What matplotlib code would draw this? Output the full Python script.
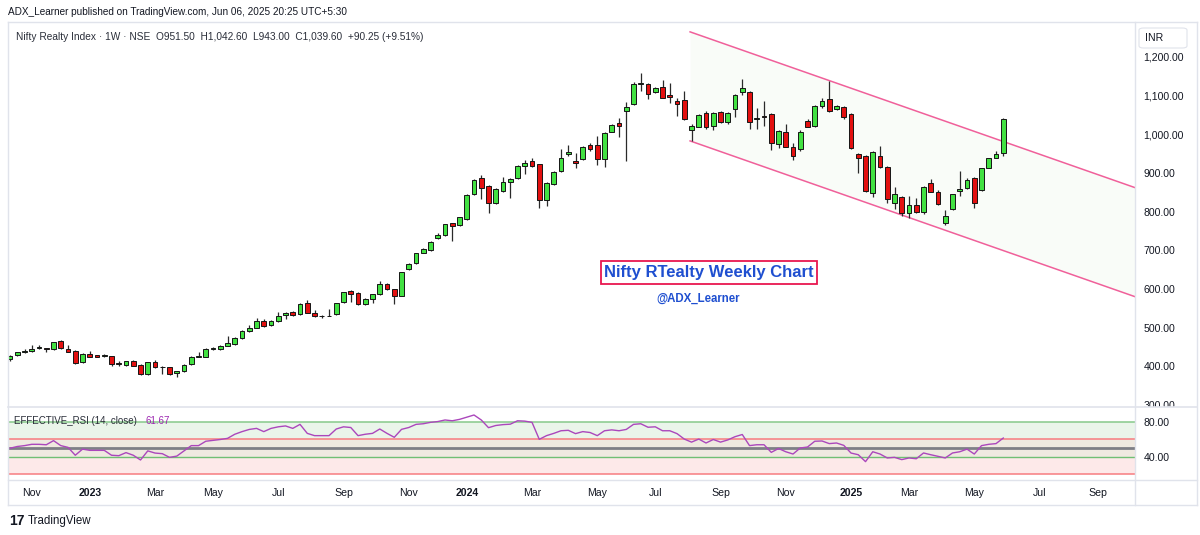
import numpy as np
import pandas as pd
import matplotlib
matplotlib.use("Agg")
import matplotlib.pyplot as plt
from matplotlib.patches import Rectangle, FancyBboxPatch
from matplotlib.lines import Line2D

plt.rcParams['font.family'] = ['Liberation Sans', 'DejaVu Sans']

# weekly candles, Nifty Realty, starting week of 17 Oct 2022
start_week = '2022-10-17'
opens = [419, 429, 436, 441, 448, 446, 445, 466, 445, 441, 410, 432, 429, 428, 427, 408, 404, 415, 404, 380,
         412, 399, 398, 382, 388, 406, 425, 425, 446, 444, 453, 458, 473, 491, 500, 518, 507, 518, 532, 541,
         535, 565, 539, 530, 530, 535, 566, 596, 589, 561, 573, 586, 613, 599, 583, 651, 666, 694, 701, 733,
         740, 770, 766, 780, 846, 886, 867, 823, 854, 876, 886, 919, 932, 922, 830, 872, 905, 949, 932, 935,
         972, 972, 935, 1007, 1030, 1061, 1078, 1130, 1130, 1110, 1123, 1102, 1087, 1089, 1011, 1020, 1054, 1022, 1057, 1031,
         1065, 1110, 1109, 1040, 1046, 1052, 974, 1005, 966, 961, 1035, 1022, 1072, 1091, 1065, 1070, 1053, 948, 944, 849,
         944, 916, 822, 837, 797, 817, 800, 875, 852, 772, 807, 853, 860, 888, 856, 914, 940, 951.5]
highs = [429, 438, 444, 455, 455, 447, 464, 468, 455, 443, 435, 440, 430, 433, 428, 413, 414, 417, 405, 412,
         416, 400, 399, 389, 405, 427, 438, 447, 450, 455, 478, 475, 493, 507, 524, 523, 520, 541, 541, 543,
         563, 572, 546, 534, 548, 565, 593, 598, 591, 576, 588, 621, 615, 601, 645, 667, 694, 705, 724, 745,
         769, 772, 787, 845, 884, 895, 869, 860, 890, 887, 921, 933, 939, 924, 877, 905, 962, 972, 953, 970,
         978, 996, 1006, 1027, 1041, 1084, 1135, 1159, 1132, 1122, 1141, 1134, 1095, 1112, 1027, 1052, 1060, 1058, 1060, 1058,
         1105, 1142, 1111, 1069, 1087, 1055, 1012, 1027, 978, 1010, 1040, 1076, 1093, 1139, 1075, 1073, 1055, 952, 946, 956,
         970, 918, 865, 840, 841, 835, 866, 884, 855, 804, 847, 905, 887, 890, 914, 940, 958, 1042.6]
lows = [415, 427, 434, 437, 444, 438, 443, 445, 436, 405, 408, 423, 424, 424, 400, 402, 402, 400, 378, 378,
        396, 380, 378, 372, 386, 404, 424, 423, 442, 442, 452, 456, 471, 489, 498, 503, 505, 516, 522, 531,
        533, 537, 528, 526, 529, 533, 564, 567, 559, 559, 563, 584, 597, 561, 581, 649, 664, 692, 699, 730,
        738, 724, 764, 778, 844, 832, 796, 821, 852, 835, 884, 897, 915, 809, 815, 870, 903, 943, 912, 933,
        957, 921, 916, 1005, 994, 932, 1076, 1113, 1091, 1108, 1093, 1082, 1047, 1037, 983, 1018, 1015, 1010, 1030, 1028,
        1044, 1103, 1013, 1013, 1022, 960, 965, 966, 934, 958, 1018, 1020, 1069, 1058, 1063, 1039, 962, 899, 852, 838,
        914, 822, 807, 789, 783, 797, 794, 850, 818, 766, 805, 841, 858, 809, 854, 912, 938, 943]
closes = [427, 436, 441, 445, 449, 445, 462, 447, 438, 408, 432, 425, 425, 429, 405, 407, 413, 402, 380, 410,
          398, 398, 380, 387, 404, 425, 426, 445, 447, 453, 460, 473, 491, 500, 518, 505, 518, 530, 539, 533,
          561, 539, 530, 530, 531, 563, 591, 586, 561, 574, 586, 612, 599, 582, 643, 664, 692, 703, 722, 739,
          767, 763, 785, 843, 882, 860, 822, 858, 876, 885, 919, 927, 917, 830, 875, 903, 938, 954, 925, 968,
          961, 935, 1004, 1024, 1022, 1070, 1130, 1132, 1104, 1119, 1095, 1096, 1078, 1039, 1022, 1050, 1018, 1054, 1033, 1054,
          1103, 1119, 1031, 1041, 1045, 977, 1009, 968, 945, 1007, 1020, 1073, 1085, 1060, 1072, 1046, 964, 940, 854, 954,
          916, 832, 845, 797, 817, 800, 863, 852, 820, 789, 845, 859, 882, 822, 912, 938, 949, 1039.6]
rsi = [50, 52, 53, 54.5, 54.5, 54, 58.7, 53, 51, 42, 49, 47.6, 47.6, 47.6, 42, 41.5, 45, 42, 36.6, 47,
       44.5, 43.8, 39.6, 41, 47, 53, 53, 58, 59, 60, 61.3, 66, 69, 71.5, 72.7, 69, 72.7, 74.5, 75.5, 72.7,
       77.3, 67, 64.4, 64.4, 64.4, 72, 74.5, 73.7, 64.4, 66, 67, 72, 67, 62.5, 71.6, 73.7, 77.3, 78, 79.6, 80.5,
       82.3, 81.4, 83, 85.5, 88, 82.3, 73.5, 76, 77, 77.5, 81.4, 81, 79.6, 60.2, 64.4, 67, 70, 70.5, 66.7, 69,
       68, 64.4, 70, 71, 70, 71.5, 77.3, 78, 74, 74.5, 70, 70, 66.7, 60.5, 57, 60.5, 56, 60, 57, 59.5,
       63.2, 65.7, 53, 54, 54, 45.3, 49.7, 46, 43.4, 50.3, 51.4, 58, 58.3, 55.3, 56, 53.3, 44.5, 42.6, 34.7, 46,
       43.4, 38.9, 39.6, 37, 38.9, 38, 44.6, 42.6, 40.8, 38.9, 44.6, 46, 49, 43.4, 53, 54.5, 55.3, 61.67]

# falling channel drawn on the chart (bar index, price)
chan_x = [93.8, 155.2]
chan_top = [1265, 862]
chan_bot = [983, 580]

price_ticks = [300, 400, 500, 600, 700, 800, 900, 1000, 1100, 1200]
rsi_levels = [80, 60, 50, 40, 20]
tick_months = ['2022-11', '2023-01', '2023-03', '2023-05', '2023-07', '2023-09', '2023-11',
               '2024-01', '2024-03', '2024-05', '2024-07', '2024-09', '2024-11',
               '2025-01', '2025-03', '2025-05', '2025-07', '2025-09']
tick_labels = ['Nov', '2023', 'Mar', 'May', 'Jul', 'Sep', 'Nov', '2024', 'Mar', 'May', 'Jul', 'Sep', 'Nov',
               '2025', 'Mar', 'May', 'Jul', 'Sep']

W, H = 1200, 535
def fx(px):
    return px / W
def fy(py):
    return 1 - py / H

fig = plt.figure(figsize=(12, 5.35), dpi=100)
fig.patch.set_facecolor('white')

ax = fig.add_axes([fx(8), fy(407), fx(1135 - 8), (407 - 22) / H])
axr = fig.add_axes([fx(8), fy(480), fx(1135 - 8), (480 - 407) / H], sharex=ax)

o = np.array(opens); h = np.array(highs); l = np.array(lows); c = np.array(closes)
x = np.arange(len(c))
up = c >= o
cols = np.where(up, '#42e142', '#e31010')

# channel
ax.fill_between(chan_x, chan_bot, chan_top, color='#f9fcf8', zorder=0, lw=0)
ax.plot(chan_x, chan_top, color='#f0609a', lw=1.1, zorder=1)
ax.plot(chan_x, chan_bot, color='#f0609a', lw=1.1, zorder=1)

ax.vlines(x, l, h, color='#2a2a2a', lw=0.9, zorder=2)
body = np.maximum(np.abs(c - o), 1.2)
ax.bar(x, body, bottom=np.minimum(o, c), width=0.66, color=cols, edgecolor='#151515',
       linewidth=0.7, zorder=3)

ax.set_xlim(-0.28, 155.17)
ax.set_ylim(294.9, 1290.5)
ax.yaxis.tick_right()
ax.set_yticks(price_ticks)
ax.set_yticklabels([f"{v:,.2f}" for v in price_ticks])
ax.tick_params(axis='y', length=0, pad=6, labelsize=7.6, labelcolor='#131722')
ax.tick_params(axis='x', length=0, labelbottom=False)
for s in ax.spines.values():
    s.set_visible(False)

# RSI pane
axr.axhspan(60, 80, color='#eaf5ea', lw=0, zorder=0)
axr.axhspan(40, 60, color='#efe9e0', lw=0, zorder=0)
axr.axhspan(20, 40, color='#fde9e9', lw=0, zorder=0)
lvl_style = {80: ('#86c98a', 1.1), 60: ('#f77c80', 1.1), 50: ('#7e7f86', 2.0),
             40: ('#6fbf73', 1.0), 20: ('#f77c80', 1.1)}
for lv in rsi_levels:
    axr.axhline(lv, color=lvl_style[lv][0], lw=lvl_style[lv][1], zorder=1)
axr.plot(x, rsi, color='#ab47bc', lw=1.0, zorder=3)
axr.set_ylim(13.71, 97.14)
axr.yaxis.tick_right()
axr.set_yticks([40, 80])
axr.set_yticklabels(['40.00', '80.00'])
axr.tick_params(axis='y', length=0, pad=6, labelsize=7.6, labelcolor='#131722')
for s in axr.spines.values():
    s.set_visible(False)

dates = pd.date_range(start_week, periods=len(c) + 30, freq='W-MON')
tick_pos = [int(np.argmax(dates >= pd.Timestamp(m + '-01'))) for m in tick_months]
axr.set_xticks(tick_pos)
axr.set_xticklabels(tick_labels)
axr.tick_params(axis='x', length=0, pad=6, labelsize=7.6, labelcolor='#131722')
for lab in axr.get_xticklabels():
    if lab.get_text().isdigit():
        lab.set_fontweight('bold')

# frame and separators
line_c = '#e0e3eb'
fig.add_artist(Line2D([fx(8), fx(1197)], [fy(22), fy(22)], color=line_c, lw=1))
fig.add_artist(Line2D([fx(8), fx(1197)], [fy(505), fy(505)], color=line_c, lw=1))
fig.add_artist(Line2D([fx(8), fx(8)], [fy(22), fy(505)], color=line_c, lw=1))
fig.add_artist(Line2D([fx(1197), fx(1197)], [fy(22), fy(505)], color=line_c, lw=1))
fig.add_artist(Line2D([fx(1135), fx(1135)], [fy(22), fy(505)], color=line_c, lw=1))
fig.add_artist(Rectangle((fx(1136), fy(411)), fx(60), 4 / H, color='white', zorder=1))
fig.add_artist(Line2D([fx(8), fx(1197)], [fy(407), fy(407)], color=line_c, lw=1.2, zorder=2))
fig.add_artist(Line2D([fx(8), fx(1197)], [fy(480), fy(480)], color=line_c, lw=1))

# texts
fig.text(fx(8), fy(12), 'ADX_Learner published on TradingView.com, Jun 06, 2025 20:25 UTC+5:30',
         fontsize=7.2, color='#131722', va='center', ha='left')
fig.text(fx(16), fy(37), 'Nifty Realty Index · 1W · NSE  O951.50  H1,042.60  L943.00  C1,039.60  +90.25 (+9.51%)',
         fontsize=7.3, color='#2a2e39', va='center', ha='left')
fig.add_artist(FancyBboxPatch((fx(1139), fy(48)), fx(48), 20 / H,
                              boxstyle='round,pad=0,rounding_size=0.004', fc='white', ec='#e0e3eb', lw=0.8))
fig.text(fx(1145), fy(38), 'INR', fontsize=7.6, color='#131722', va='center', ha='left')
fig.text(fx(14), fy(420.5), 'EFFECTIVE_RSI (14, close)', fontsize=7.0, color='#2a2e39', va='center', ha='left')
fig.text(fx(145), fy(420.5), '61.67', fontsize=7.0, color='#9c27b0', va='center', ha='left')

fig.text(fx(709), fy(272.5), 'Nifty RTealty Weekly Chart', fontsize=12, fontweight='bold',
         color='#1f4fd0', va='center', ha='center',
         bbox=dict(boxstyle='square,pad=0.22', fc='white', ec='#e8174f', lw=1.3))
fig.text(fx(698), fy(299), '@ADX_Learner', fontsize=8.3, fontweight='bold', color='#1f4fd0',
         va='center', ha='center')

fig.text(fx(9), fy(521), '17', fontsize=10, fontweight='bold', color='#131722', va='center', ha='left')
fig.text(fx(28), fy(521), 'TradingView', fontsize=8.3, color='#131722', va='center', ha='left')

fig.savefig('out.png', dpi=100)
